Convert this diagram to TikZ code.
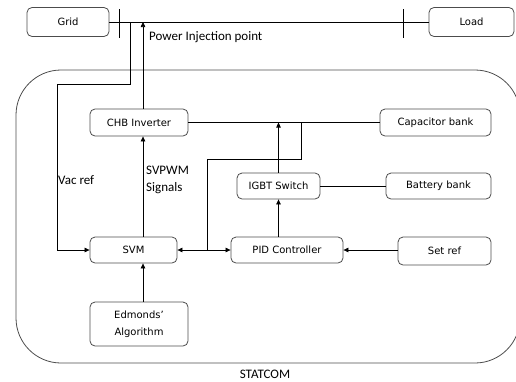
\documentclass[tikz,border=0pt]{standalone}
\usepackage{fontspec}
\setmainfont{Carlito}
\newfontfamily\boxfont{DejaVu Sans}
\usetikzlibrary{arrows.meta}
\begin{document}
\begin{tikzpicture}[x=1pt,y=-1pt,
 blk/.style={draw=black!70, line width=0.8pt, rounded corners=5pt, font=\boxfont\fontsize{10}{17}\selectfont, inner sep=0pt, align=center},
 ln/.style={line width=0.7pt},
 arr/.style={ln,-{Triangle[length=5pt,width=4.5pt]}},
 lbl/.style={font=\fontsize{13}{16.5}\selectfont, inner sep=0pt, align=left}]
\useasboundingbox (0,0) rectangle (516,381);
% outer STATCOM boundary
\draw[draw=black!70, line width=0.8pt, rounded corners=45pt] (16,70) rectangle (520,363);
% blocks
\node[blk, minimum width=82pt, minimum height=29pt] (grid) at (68,22) {Grid};
\node[blk, minimum width=85pt, minimum height=29pt] (load) at (471.5,22) {Load};
\node[blk, minimum width=98pt, minimum height=27pt] (chb) at (139,122.5) {CHB Inverter};
\node[blk, minimum width=111pt, minimum height=27pt] (cap) at (435.5,122.5) {Capacitor bank};
\node[blk, minimum width=83pt, minimum height=26pt] (igbt) at (278.5,186) {IGBT Switch};
\node[blk, minimum width=105pt, minimum height=26pt] (bat) at (438.5,186) {Battery bank};
\node[blk, minimum width=87pt, minimum height=26pt] (svm) at (133.5,250) {SVM};
\node[blk, minimum width=112pt, minimum height=26pt] (pid) at (287,250) {PID Controller};
\node[blk, minimum width=93pt, minimum height=28pt] (set) at (444.5,251) {Set ref};
\node[blk, minimum width=98pt, minimum height=44pt] (edm) at (139,324) {Edmonds’\\Algorithm};
% coordinates
\coordinate (ax) at (143,0);
\coordinate (vtop) at (130,22);
\coordinate (vk1) at (130,84);
\coordinate (vk2) at (57,84);
\coordinate (t1) at (119,9);
\coordinate (t1b) at (119,38);
\coordinate (t2) at (403,9);
\coordinate (t2b) at (403,38);
\coordinate (lp1) at (301,122.5);
\coordinate (lp2) at (301,159);
\coordinate (lp3) at (207,159);
\coordinate (lp4) at (207,250);
% bus
\draw[ln] (grid.east) -- (load.west);
\draw[ln] (t1) -- (t1b);
\draw[ln] (t2) -- (t2b);
% Vac ref feedback
\draw[arr] (vtop) -- (vk1) -- (vk2) |- (svm.west);
% CHB to bus
\draw[arr] (ax |- chb.north) -- (ax |- grid.east);
% SVM to CHB
\draw[arr] (ax |- svm.north) -- (ax |- chb.south);
% Edmonds to SVM
\draw[arr] (ax |- edm.north) -- (ax |- svm.south);
% CHB to capacitor
\draw[ln] (chb.east) -- (cap.west);
% IGBT up
\draw[arr] (igbt.north) -- (igbt.north |- chb.east);
% PID to IGBT
\draw[arr] (igbt.south |- pid.north) -- (igbt.south);
% IGBT to battery
\draw[ln] (igbt.east) -- (bat.west);
% DC-link loop
\draw[ln] (lp1) -- (lp2) -- (lp3) -- (lp4);
\draw[arr] (lp4) -- (svm.east);
\draw[arr] (lp4) -- (pid.west);
% set ref
\draw[arr] (set.west |- pid.east) -- (pid.east);
% labels
\node[lbl, anchor=west] (pip) at (149,37.5) {Power Injection point};
\node[lbl, anchor=west] (vac) at (58,180) {Vac ref};
\node[lbl, anchor=north west] (sv) at (146,166) {SVPWM\\Signals};
\node[lbl] (stat) at (265,374) {STATCOM};
\end{tikzpicture}
\end{document}
